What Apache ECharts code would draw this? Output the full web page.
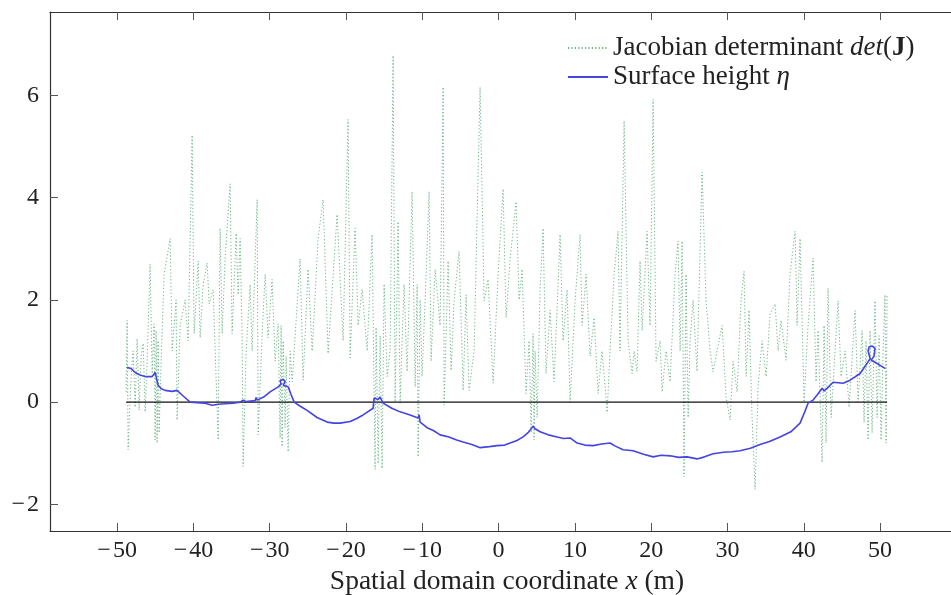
<!DOCTYPE html>
<html>
<head>
<meta charset="utf-8">
<script src="https://cdn.jsdelivr.net/npm/echarts@6/dist/echarts.min.js"></script>
<style>
html,body{margin:0;padding:0;background:#fff;}
#chart{width:951px;height:595px;}
</style>
</head>
<body>
<div id="chart"></div>
<script>
// ---- data ----
const xTicks = [-50, -40, -30, -20, -10, 0, 10, 20, 30, 40, 50];
const yTicks = [-2, 0, 2, 4, 6];

const jacX = [-48.82,-48.69,-48.56,-48.17,-47.90,-47.64,-47.38,-47.12,-46.85,-46.59,-46.33,-46.07,-45.68,-45.41,-45.15,-45.02,-44.89,-44.76,-44.63,-44.50,-44.23,-43.84,-43.05,-42.79,-42.27,-42.14,-41.74,-41.09,-40.69,-40.17,-39.91,-39.38,-39.12,-38.73,-38.20,-37.94,-37.42,-36.76,-36.50,-36.24,-35.85,-35.19,-34.93,-34.40,-34.14,-33.88,-33.62,-33.49,-33.09,-32.57,-32.31,-31.65,-31.52,-31.00,-30.60,-30.21,-29.69,-29.29,-28.90,-28.64,-28.51,-28.38,-28.24,-27.98,-27.85,-27.59,-27.33,-27.06,-26.02,-25.62,-24.97,-24.44,-23.66,-23.00,-22.35,-21.17,-20.77,-20.38,-19.73,-19.46,-18.81,-18.41,-17.89,-17.23,-16.58,-16.19,-16.06,-15.79,-15.53,-15.27,-15.01,-14.61,-14.22,-13.83,-13.57,-13.17,-12.91,-12.39,-11.99,-11.34,-10.94,-10.68,-10.55,-10.29,-10.03,-9.50,-9.11,-8.85,-8.32,-7.67,-7.27,-7.14,-6.62,-6.23,-5.83,-5.18,-4.65,-4.26,-3.87,-3.21,-2.43,-1.90,-1.38,-0.72,-0.07,0.59,0.98,1.51,2.29,2.69,3.08,3.60,4.00,4.26,4.52,4.65,4.78,5.05,5.44,5.83,6.22,6.75,7.27,8.06,8.45,8.98,9.37,10.03,10.68,10.94,11.47,11.99,12.52,13.04,13.56,13.96,14.22,14.61,15.14,15.66,15.92,16.45,16.97,17.50,17.76,18.15,18.54,18.81,19.46,19.85,20.25,20.64,21.17,21.43,21.95,22.48,23.13,23.52,23.79,24.05,24.31,24.57,24.84,25.10,25.49,26.01,26.67,27.19,27.72,28.11,28.64,29.29,29.82,30.34,30.73,31.26,31.78,32.17,32.44,32.83,33.22,33.62,34.01,34.53,35.06,35.58,36.24,36.63,37.02,37.68,38.20,38.86,39.12,39.51,40.04,40.56,41.22,41.61,41.87,42.40,42.66,42.92,43.18,43.58,44.10,44.49,44.89,45.41,45.94,46.72,47.12,47.64,47.90,48.16,48.43,48.69,48.95,49.34,49.61,49.87,50.13,50.39,50.65,50.78,50.92];
const jacY = [0.2,1.6,-0.93,0.5,1.0,-0.1,1.24,-0.16,0.9,1.15,-0.19,0.8,2.7,0.56,1.53,-0.74,1.4,-0.8,1.2,-0.6,0.8,2.5,3.2,1.0,2.0,-0.35,1.5,2.0,1.2,5.22,1.34,2.76,1.26,2.3,2.72,1.92,2.2,-0.74,3.4,1.34,2.8,4.27,1.34,3.3,2.1,3.2,1.3,-1.26,1.0,2.3,1.0,3.96,-0.64,1.3,2.5,1.26,2.4,0.8,1.53,-0.7,1.5,-0.87,1.2,-0.5,0.9,-0.97,1.0,0.4,2.8,0.43,2.6,1.0,3.2,3.96,0.95,3.67,2.4,1.2,5.53,0.87,3.4,1.5,2.2,1.0,3.28,-1.32,1.46,-1.2,1.3,-1.3,2.31,0.5,1.0,6.78,0.0,3.53,-0.02,2.3,0.6,4.12,0.3,2.3,-1.07,2.0,0.5,2.5,4.12,0.8,2.6,1.5,6.16,-0.06,2.76,0.62,2.0,2.95,0.23,2.1,0.23,1.0,6.16,1.98,2.4,0.37,2.5,4.17,1.65,2.8,3.92,2.0,2.6,0.17,1.2,-0.6,1.34,-0.74,1.0,-0.3,2.2,3.4,0.56,1.8,0.4,3.28,1.2,2.2,0.0,2.0,3.28,1.5,2.5,0.9,1.65,0.17,1.0,0.3,-0.2,1.0,2.5,3.34,1.0,5.5,1.2,0.56,1.0,0.6,2.76,1.4,3.34,1.5,5.92,0.8,1.2,0.2,1.0,0.4,2.5,3.15,1.0,3.15,-1.46,2.5,-0.3,1.2,2.0,0.6,4.5,2.0,1.0,0.59,1.0,1.5,0.1,-0.35,0.8,0.2,2.0,2.56,0.5,1.8,-0.3,-1.71,0.3,1.2,0.5,1.73,1.92,1.0,1.6,0.82,2.5,3.34,1.5,3.2,0.0,1.5,2.82,0.4,1.4,-1.18,1.5,-0.8,2.23,-0.3,1.0,1.98,0.5,1.0,-0.1,1.79,0.0,1.4,-0.4,1.2,-0.74,1.4,-0.6,1.98,-0.3,1.3,-0.74,1.0,2.1,-0.8,2.1];

const etaX = [-48.69,-48.2,-47.64,-47.0,-46.33,-45.41,-45.02,-44.89,-44.63,-44.2,-43.71,-42.8,-42.14,-41.35,-40.43,-39.5,-38.47,-37.55,-36.7,-35.85,-34.8,-33.88,-33.49,-33.09,-31.91,-31.78,-31.65,-30.8,-29.95,-28.90,-28.51,-28.64,-28.24,-27.98,-28.24,-27.59,-27.2,-26.80,-26.0,-25.10,-23.8,-22.48,-21.6,-20.77,-19.46,-18.6,-17.76,-16.45,-16.32,-16.06,-15.80,-15.53,-15.27,-15.14,-14.0,-12.91,-11.60,-10.55,-10.42,-10.29,-9.37,-8.5,-7.67,-6.5,-5.5,-4.65,-3.5,-2.42,-1.2,-0.20,0.8,1.51,2.4,3.21,3.9,4.52,4.78,5.44,6.5,7.67,8.5,9.37,10.29,11.3,12.39,13.5,14.61,15.3,16.32,17.63,19.0,20.25,21.3,22.48,23.6,24.71,26.02,27.0,28.11,29.5,30.6,31.65,33.0,34.27,35.5,36.89,38.3,39.51,40.1,40.56,41.22,41.8,42.40,42.66,43.05,43.84,45.15,46.07,47.38,48.30,48.70,48.43,48.56,48.95,49.34,49.21,48.82,49.34,50.0,50.66];
const etaY = [0.68,0.66,0.58,0.53,0.50,0.50,0.58,0.50,0.33,0.26,0.23,0.21,0.23,0.12,0.00,-0.01,-0.02,-0.06,-0.04,-0.03,-0.02,0.00,0.04,0.01,0.03,0.09,0.04,0.10,0.20,0.30,0.35,0.42,0.45,0.40,0.33,0.30,0.15,0.00,-0.08,-0.16,-0.30,-0.39,-0.41,-0.41,-0.38,-0.32,-0.25,-0.12,0.08,0.10,0.05,0.10,0.08,-0.02,-0.12,-0.19,-0.25,-0.31,-0.25,-0.39,-0.50,-0.56,-0.64,-0.68,-0.74,-0.78,-0.83,-0.89,-0.87,-0.85,-0.84,-0.80,-0.75,-0.68,-0.59,-0.47,-0.52,-0.58,-0.64,-0.68,-0.71,-0.70,-0.80,-0.84,-0.85,-0.82,-0.80,-0.86,-0.93,-0.95,-1.02,-1.07,-1.04,-1.05,-1.08,-1.07,-1.11,-1.07,-1.01,-0.98,-0.97,-0.95,-0.90,-0.83,-0.77,-0.68,-0.58,-0.41,-0.20,-0.02,0.04,0.15,0.27,0.22,0.27,0.39,0.37,0.43,0.56,0.76,0.85,1.00,1.08,1.10,1.05,0.90,0.82,0.78,0.72,0.66];

const zeroX = [-48.82, 50.92];
const zeroY = [0, 0];

const jacName = 'Jacobian determinant det(J)';
const etaName = 'Surface height η';

// ---- chart ----
const FONT = '"Liberation Serif", "DejaVu Serif", serif';
const pair = (xs, ys) => xs.map((x, i) => [x, ys[i]]);
const fmt = v => (v < 0 ? '\u2212\u200a' + Math.abs(v) : String(v));

const chart = echarts.init(document.getElementById('chart'), null, {renderer: 'canvas'});

const tickStyle = {color: '#555', width: 1};
const lineCol = {color: '#333', width: 1.2};
const GREEN = '#3c9c60';
const BLUE = '#4444e2';

chart.setOption({
  animation: false,
  backgroundColor: '#fff',
  grid: {left: 50, top: 12, right: -13, bottom: 64, containLabel: false, outerBoundsMode: 'none'},
  legend: {
    orient: 'vertical',
    left: 567,
    top: 34,
    padding: 0,
    itemWidth: 40,
    itemHeight: 14,
    itemGap: 1,
    data: [jacName, etaName],
    itemStyle: {opacity: 0, borderWidth: 0},
    textStyle: {
      fontFamily: FONT, fontSize: 27, color: '#222', lineHeight: 28,
      rich: {
        t: {fontFamily: FONT, fontSize: 27, color: '#222', lineHeight: 28},
        i: {fontFamily: FONT, fontSize: 27, fontStyle: 'italic', color: '#222', lineHeight: 28},
        b: {fontFamily: FONT, fontSize: 27, fontWeight: 'bold', color: '#222', lineHeight: 28}
      }
    },
    formatter: name => name === jacName
      ? '{t|Jacobian determinant }{i|det}{t|(}{b|J}{t|)}'
      : '{t|Surface height }{i|η}'
  },
  xAxis: [{
    type: 'value', min: -58.8, max: 61, position: 'bottom',
    axisLine: {show: true, onZero: false, lineStyle: lineCol},
    axisTick: {show: true, inside: true, length: 8, customValues: xTicks, lineStyle: tickStyle},
    axisLabel: {customValues: xTicks, formatter: fmt, fontFamily: FONT, fontSize: 24, color: '#222', margin: 8},
    splitLine: {show: false},
    name: '{t|Spatial domain coordinate }{i|x}{t| (m)}',
    nameLocation: 'middle', nameGap: 35,
    nameTextStyle: {
      rich: {
        t: {fontFamily: FONT, fontSize: 27.5, color: '#222'},
        i: {fontFamily: FONT, fontSize: 27.5, fontStyle: 'italic', color: '#222'}
      }
    }
  }, {
    type: 'value', min: -58.8, max: 61, position: 'top',
    axisLine: {show: true, onZero: false, lineStyle: lineCol},
    axisTick: {show: true, inside: true, length: 8, customValues: xTicks, lineStyle: tickStyle},
    axisLabel: {show: false},
    splitLine: {show: false}
  }],
  yAxis: [{
    type: 'value', min: -2.52, max: 7.63,
    axisLine: {show: true, onZero: false, lineStyle: lineCol},
    axisTick: {show: true, inside: true, length: 8, customValues: yTicks, lineStyle: tickStyle},
    axisLabel: {customValues: yTicks, formatter: fmt, fontFamily: FONT, fontSize: 24, color: '#222', margin: 11},
    splitLine: {show: false}
  }],
  series: [{
    name: jacName, type: 'line', data: pair(jacX, jacY),
    showSymbol: false, symbol: 'none',
    lineStyle: {color: GREEN, width: 1, type: [1.2, 2.2], opacity: 0.75},
    itemStyle: {color: GREEN},
    z: 2
  }, {
    name: 'zero', type: 'line', data: pair(zeroX, zeroY),
    showSymbol: false, symbol: 'none',
    lineStyle: {color: '#111', width: 1.2},
    z: 3
  }, {
    name: etaName, type: 'line', data: pair(etaX, etaY),
    showSymbol: false, symbol: 'none',
    lineStyle: {color: BLUE, width: 1.6},
    itemStyle: {color: BLUE},
    z: 4
  }]
});
</script>
</body>
</html>
